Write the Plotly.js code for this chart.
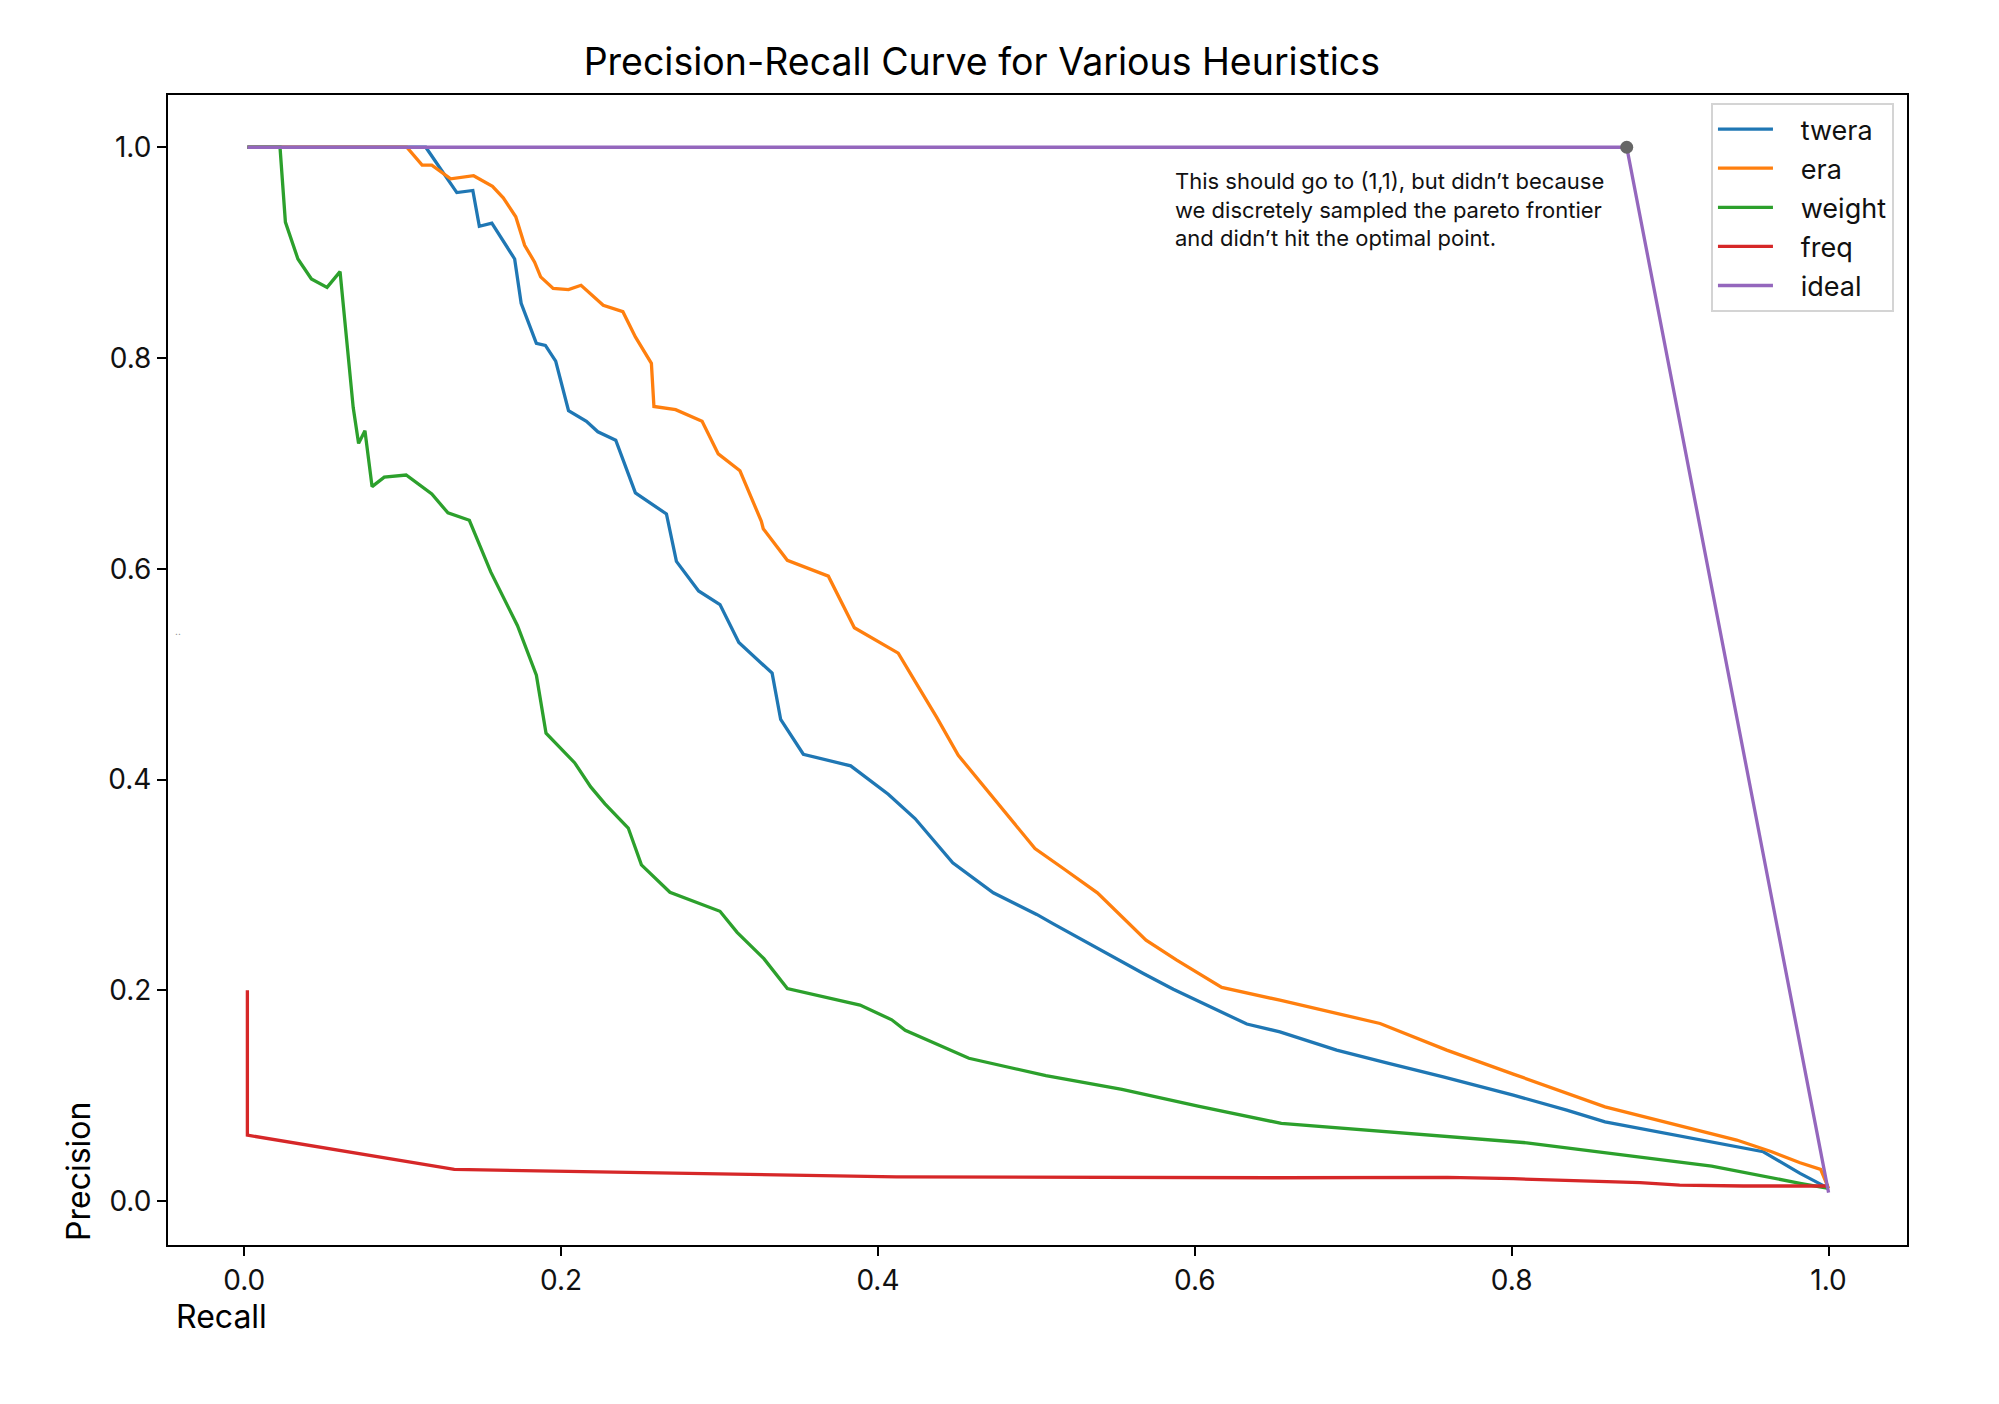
<!DOCTYPE html>
<html>
<head>
<meta charset="utf-8">
<script src="https://cdn.plot.ly/plotly-3.0.1.min.js"></script>
<style>
  html, body { margin: 0; padding: 0; background: #fff; }
  #pr-plot { width: 1999px; height: 1404px; }
</style>
</head>
<body>
<div id="pr-plot"></div>
<script>
// Values (recall on x, precision on y)
const tweraRecall = [0.002, 0.1146, 0.1342, 0.1443, 0.1484, 0.1563, 0.1707, 0.1748, 0.1844, 0.1901,
  0.1966, 0.2047, 0.2160, 0.2232, 0.2345, 0.2469, 0.2665, 0.2728, 0.2868, 0.3003, 0.3122, 0.3332,
  0.3386, 0.3529, 0.3828, 0.4065, 0.4234, 0.4472, 0.4728, 0.5002, 0.5107, 0.5275, 0.5381, 0.5675,
  0.5864, 0.6053, 0.6264, 0.6328, 0.6537, 0.6895, 0.7211, 0.7568, 0.8010, 0.8347, 0.8589, 0.9231,
  0.9588, 0.982, 1.0];
const tweraPrecision = [1.0, 1.0, 0.957, 0.959, 0.925, 0.928, 0.894, 0.852, 0.814, 0.812,
  0.797, 0.750, 0.740, 0.730, 0.722, 0.672, 0.652, 0.607, 0.579, 0.566, 0.530, 0.501,
  0.457, 0.424, 0.413, 0.386, 0.363, 0.321, 0.2925, 0.272, 0.263, 0.249, 0.241, 0.216,
  0.201, 0.1875, 0.172, 0.168, 0.1606, 0.1432, 0.1312, 0.1179, 0.1005, 0.0863, 0.0752, 0.0572,
  0.0468, 0.0263, 0.012];

const eraRecall = [0.002, 0.1026, 0.1123, 0.1184, 0.1303, 0.1448, 0.1567, 0.1635, 0.1714, 0.1770,
  0.1833, 0.1871, 0.1950, 0.2047, 0.2126, 0.2266, 0.2390, 0.2469, 0.2570, 0.2586, 0.2723, 0.2890,
  0.2992, 0.3129, 0.3264, 0.3276, 0.3428, 0.3687, 0.3851, 0.4002, 0.4128, 0.4223, 0.4371, 0.4507,
  0.4739, 0.4876, 0.4991, 0.5170, 0.5385, 0.5692, 0.5886, 0.6170, 0.6537, 0.7169, 0.7590, 0.8010,
  0.8589, 0.942, 0.9641, 0.982, 0.995, 1.0];
const eraPrecision = [1.0, 1.0, 0.983, 0.983, 0.970, 0.973, 0.963, 0.952, 0.934, 0.907,
  0.891, 0.877, 0.866, 0.865, 0.869, 0.850, 0.844, 0.820, 0.795, 0.754, 0.751, 0.740,
  0.709, 0.693, 0.645, 0.638, 0.608, 0.593, 0.544, 0.5305, 0.520, 0.496, 0.459, 0.423,
  0.380, 0.355, 0.3345, 0.3156, 0.2925, 0.2476, 0.2286, 0.2027, 0.1906, 0.1685, 0.1432, 0.1205,
  0.0894, 0.0579, 0.0468, 0.0364, 0.030, 0.012];

const weightRecall = [0.002, 0.0226, 0.0260, 0.0339, 0.0424, 0.0523, 0.0605, 0.0688, 0.0722, 0.0762,
  0.0807, 0.0884, 0.1022, 0.1184, 0.1286, 0.1421, 0.1556, 0.1725, 0.1844, 0.1905, 0.2085, 0.2187,
  0.2277, 0.2424, 0.2507, 0.2687, 0.3003, 0.3111, 0.3280, 0.3428, 0.3887, 0.4087, 0.4172, 0.4574,
  0.506, 0.554, 0.602, 0.6546, 0.8095, 0.9262, 0.982, 1.0];
const weightPrecision = [1.0, 1.0, 0.929, 0.894, 0.875, 0.867, 0.882, 0.753, 0.719, 0.731,
  0.678, 0.687, 0.689, 0.671, 0.653, 0.646, 0.597, 0.546, 0.499, 0.444, 0.416, 0.393,
  0.377, 0.354, 0.319, 0.293, 0.275, 0.255, 0.230, 0.2017, 0.186, 0.172, 0.162, 0.1355,
  0.119, 0.106, 0.090, 0.0737, 0.0553, 0.0332, 0.0168, 0.012];

const freqRecall = [0.002, 0.002, 0.1326, 0.4116, 0.6537, 0.7595, 0.801, 0.881, 0.906, 0.9462, 1.0];
const freqPrecision = [0.2, 0.0625, 0.030, 0.023, 0.0221, 0.0225, 0.0212, 0.0174, 0.0152, 0.0143, 0.0143];

const idealRecall = [0.002, 0.8726, 1.0];
const idealPrecision = [1.0, 1.0, 0.008];

// last sampled point on the pareto frontier
const optimalRecall = [0.8726];
const optimalPrecision = [1.0];

const seriesNames = ["twera", "era", "weight", "freq", "ideal"];
const seriesColors = ["#1f77b4", "#ff7f0e", "#2ca02c", "#d62728", "#9467bd"];
const tickValues = [0.0, 0.2, 0.4, 0.6, 0.8, 1.0];
const tickLabels = ["0.0", "0.2", "0.4", "0.6", "0.8", "1.0"];

const noteText = "This should go to (1,1), but didn’t because<br>" +
    "we discretely sampled the pareto frontier<br>" +
    "and didn’t hit the optimal point.";

const FONT = "Inter, 'DejaVu Sans', sans-serif";
// a little room between the legend line and its label
const LEGEND_PAD = "\u00a0\u00a0\u00a0";

const seriesData = [
  [tweraRecall, tweraPrecision],
  [eraRecall, eraPrecision],
  [weightRecall, weightPrecision],
  [freqRecall, freqPrecision],
  [idealRecall, idealPrecision],
];

const traces = seriesData.map(([xs, ys], ind) => ({
  x: xs,
  y: ys,
  type: "scatter",
  mode: "lines",
  name: LEGEND_PAD + seriesNames[ind],
  legendgroup: seriesNames[ind],
  line: { color: seriesColors[ind], width: 3.3 },
}));

traces.push({
  x: optimalRecall,
  y: optimalPrecision,
  type: "scatter",
  mode: "markers",
  showlegend: false,
  marker: { color: "#666666", size: 13 },
});

const axisStyle = {
  showgrid: false,
  zeroline: false,
  showline: true,
  mirror: true,
  linecolor: "#000",
  linewidth: 2,
  ticks: "outside",
  ticklen: 9,
  tickwidth: 2,
  tickcolor: "#000",
  tickvals: tickValues,
  ticktext: tickLabels,
  tickfont: { family: FONT, size: 28, color: "#111" },
};

const layout = {
  width: 1999,
  height: 1404,
  margin: { l: 168, r: 92, t: 95, b: 159 },
  paper_bgcolor: "#fff",
  plot_bgcolor: "#fff",
  title: {
    text: "Precision-Recall Curve for Various Heuristics",
    font: { family: FONT, size: 37.5, color: "#000" },
    xref: "paper",
    x: 0.468,
    xanchor: "center",
    yref: "container",
    y: 0.9562,
    yanchor: "middle",
  },
  xaxis: { ...axisStyle, range: [-0.0481, 1.0495] },
  yaxis: { ...axisStyle, range: [-0.0417, 1.0496] },
  showlegend: true,
  legend: {
    x: 0.9925,
    y: 0.993,
    xanchor: "right",
    yanchor: "top",
    bgcolor: "rgba(255,255,255,0.85)",
    bordercolor: "#d4d4d4",
    borderwidth: 2,
    tracegroupgap: 1,
    itemwidth: 55,
    font: { family: FONT, size: 27, color: "#111" },
  },
  annotations: [
    {
      text: noteText,
      xref: "x",
      yref: "y",
      x: 0.5862,
      y: 0.941,
      xanchor: "left",
      yanchor: "middle",
      align: "left",
      showarrow: false,
      font: { family: FONT, size: 22, color: "#111" },
    },
    {
      // x label sits under the left end of the axis in the original
      text: "Recall",
      xref: "paper",
      yref: "paper",
      x: 0.0035,
      y: -0.0626,
      xanchor: "left",
      yanchor: "middle",
      showarrow: false,
      font: { family: FONT, size: 32, color: "#000" },
    },
    {
      text: "Precision",
      xref: "paper",
      yref: "paper",
      x: -0.0518,
      y: 0.0643,
      xanchor: "center",
      yanchor: "middle",
      textangle: -90,
      showarrow: false,
      font: { family: FONT, size: 32, color: "#000" },
    },
    {
      text: "..",
      xref: "paper",
      yref: "paper",
      x: 0.0058,
      y: 0.534,
      xanchor: "center",
      yanchor: "middle",
      showarrow: false,
      font: { family: FONT, size: 10, color: "#888" },
    },
  ],
};

Plotly.newPlot("pr-plot", traces, layout, { displayModeBar: false, responsive: false });
</script>
</body>
</html>
